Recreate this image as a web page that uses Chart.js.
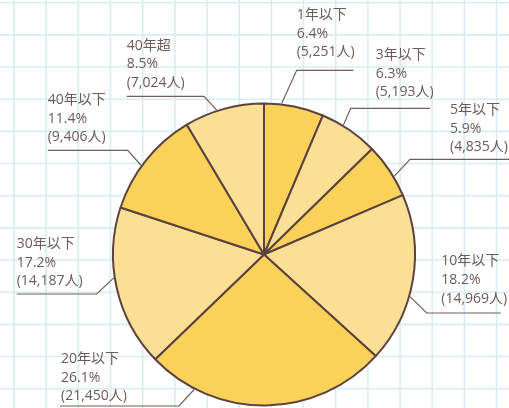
<!DOCTYPE html>
<html>
<head>
<meta charset="utf-8">
<style>
html,body{margin:0;padding:0;background:#fff;overflow:hidden}
canvas{display:block}
</style>
</head>
<body>
<canvas id="c" width="509" height="408"></canvas>
<script src="https://cdn.jsdelivr.net/npm/chart.js@4/dist/chart.umd.min.js"></script>
<script>
// ---- data ----
const categories = ['1年以下','3年以下','5年以下','10年以下','20年以下','30年以下','40年以下','40年超'];
const counts = [5251, 5193, 4835, 14969, 21450, 14187, 9406, 7024];
const percentLabels = ['6.4%','6.3%','5.9%','18.2%','26.1%','17.2%','11.4%','8.5%'];
const countLabels = ['(5,251人)','(5,193人)','(4,835人)','(14,969人)','(21,450人)','(14,187人)','(9,406人)','(7,024人)'];

// ---- styles / layout ----
const darkYellow = 'rgb(250,210,90)';
const lightYellow = 'rgb(251,223,148)';
const sliceColors = [darkYellow, lightYellow, darkYellow, lightYellow, darkYellow, lightYellow, darkYellow, lightYellow];
const borderColor = 'rgb(92,66,62)';
const textColor = 'rgb(108,90,86)';
const leaderColor = 'rgb(112,94,90)';
const gridColor = 'rgb(214,238,243)';

// leader attach point as fraction inside slice; elbow/line/text placement
const labelLayout = [
  {frac:0.29,  elbowX:296.7, lineY:70.3,  lineEndX:353.3, textX:296.7, textY:15},
  {frac:0.376, elbowX:350.7, lineY:108.3, lineEndX:430,   textX:375.7, textY:55},
  {frac:0.63,  elbowX:410,   lineY:159.3, lineEndX:512,   textX:450,   textY:110},
  {frac:0.60,  elbowX:426.7, lineY:313,   lineEndX:500.7, textX:441.3, textY:261.3},
  {frac:0.80,  elbowX:179,   lineY:406,   lineEndX:60,    textX:61,    textY:359},
  {frac:0.565, elbowX:96.7,  lineY:294,   lineEndX:16.7,  textX:16.7,  textY:244},
  {frac:0.433, elbowX:127.7, lineY:150.3, lineEndX:47.7,  textX:47.7,  textY:100},
  {frac:0.41,  elbowX:204,   lineY:96.3,  lineEndX:126.7, textX:126.7, textY:45.7}
];
const lineGap = 18.7;

const gridPlugin = {
  id: 'grid',
  beforeDraw(chart) {
    const ctx = chart.ctx;
    const W = chart.width, H = chart.height;
    ctx.save();
    ctx.fillStyle = '#fff';
    ctx.fillRect(0, 0, W, H);
    ctx.strokeStyle = gridColor;
    ctx.lineWidth = 1.6;
    const step = 32.17;
    ctx.beginPath();
    for (let x = 14; x < W + 2; x += step) { ctx.moveTo(x, 0); ctx.lineTo(x, H); }
    for (let y = 2.7; y < H + 2; y += step) { ctx.moveTo(0, y); ctx.lineTo(W, y); }
    ctx.stroke();
    ctx.restore();
  }
};

const labelPlugin = {
  id: 'pieLabels',
  afterDatasetsDraw(chart) {
    const ctx = chart.ctx;
    const arcs = chart.getDatasetMeta(0).data;
    ctx.save();
    arcs.forEach((arc, i) => {
      const L = labelLayout[i];
      const p = arc.getProps(['x','y','startAngle','endAngle','outerRadius'], true);
      const ang = p.startAngle + (p.endAngle - p.startAngle) * L.frac;
      const r = p.outerRadius + 1;
      const ex = p.x + r * Math.cos(ang);
      const ey = p.y + r * Math.sin(ang);
      ctx.strokeStyle = leaderColor;
      ctx.lineWidth = 1.2;
      ctx.beginPath();
      ctx.moveTo(ex, ey);
      ctx.lineTo(L.elbowX, L.lineY);
      ctx.lineTo(L.lineEndX, L.lineY);
      ctx.stroke();
      ctx.fillStyle = textColor;
      ctx.font = '14px "Open Sans", "Noto Sans CJK JP", sans-serif';
      ctx.textAlign = 'left';
      ctx.textBaseline = 'middle';
      const lines = [categories[i], percentLabels[i], countLabels[i]];
      lines.forEach((t, k) => ctx.fillText(t, L.textX, L.textY + k * lineGap));
    });
    ctx.restore();
  }
};

new Chart(document.getElementById('c'), {
  type: 'pie',
  data: {
    labels: categories,
    datasets: [{
      data: counts,
      backgroundColor: sliceColors,
      borderColor: borderColor,
      borderWidth: 2,
      hoverOffset: 0
    }]
  },
  options: {
    responsive: false,
    animation: false,
    devicePixelRatio: 1,
    layout: { padding: { top: 102.5, bottom: 1.5, left: 112, right: 93 } },
    plugins: { legend: { display: false }, tooltip: { enabled: false } },
    events: []
  },
  plugins: [gridPlugin, labelPlugin]
});
</script>
</body>
</html>
